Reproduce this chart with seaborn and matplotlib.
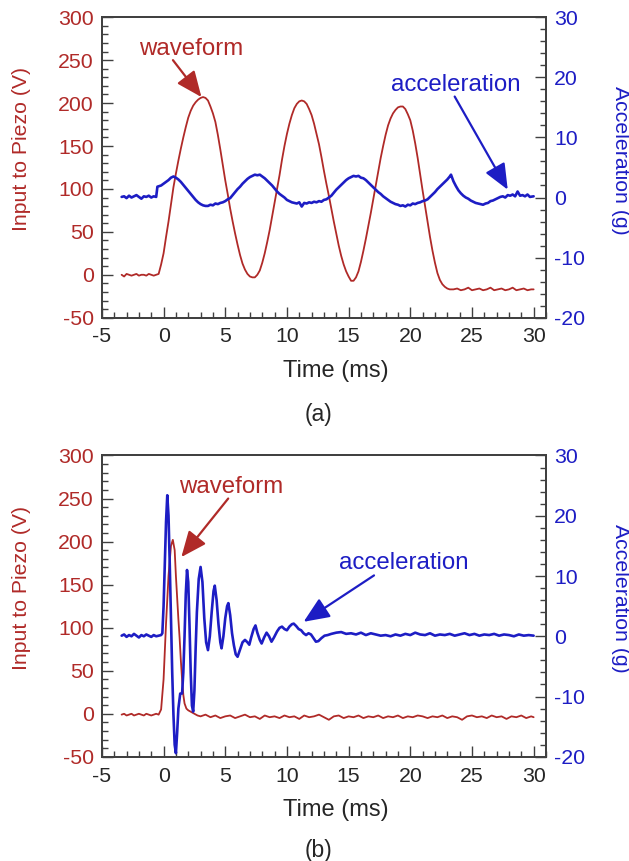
import numpy as np
import pandas as pd
import matplotlib.pyplot as plt
import seaborn as sns
from matplotlib.ticker import MultipleLocator

# ---- panel (a): 3-cycle drive waveform ----
t_wave_a = [-3.4, -3.2, -3.0, -2.8, -2.6, -2.4, -2.2, -2.0, -1.8, -1.6, -1.4, -1.2, -1.0, -0.8, -0.6, -0.4,
            -0.2, 0.0, 0.2, 0.4, 0.6, 0.8, 1.0, 1.2, 1.4, 1.6, 1.8, 2.0, 2.2, 2.4, 2.6, 2.8, 3.0, 3.2, 3.4,
            3.6, 3.8, 4.0, 4.2, 4.4, 4.6, 4.8, 5.0, 5.2, 5.4, 5.6, 5.8, 6.0, 6.2, 6.4, 6.6, 6.8, 7.0, 7.2,
            7.4, 7.6, 7.8, 8.0, 8.2, 8.4, 8.6, 8.8, 9.0, 9.2, 9.4, 9.6, 9.8, 10.0, 10.2, 10.4, 10.6, 10.8,
            11.0, 11.2, 11.4, 11.6, 11.8, 12.0, 12.2, 12.4, 12.6, 12.8, 13.0, 13.2, 13.4, 13.6, 13.8, 14.0,
            14.2, 14.4, 14.6, 14.8, 15.0, 15.2, 15.4, 15.6, 15.8, 16.0, 16.2, 16.4, 16.6, 16.8, 17.0, 17.2,
            17.4, 17.6, 17.8, 18.0, 18.2, 18.4, 18.6, 18.8, 19.0, 19.2, 19.4, 19.6, 19.8, 20.0, 20.2, 20.4,
            20.6, 20.8, 21.0, 21.2, 21.4, 21.6, 21.8, 22.0, 22.2, 22.4, 22.6, 22.8, 23.0, 23.2, 23.5, 23.8,
            24.1, 24.4, 24.7, 25.0, 25.3, 25.6, 25.9, 26.2, 26.5, 26.8, 27.1, 27.4, 27.7, 28.0, 28.3, 28.6,
            28.9, 29.2, 29.5, 29.8, 30.0]
v_wave_a = [0, -2, 1, 0, -1, 0, 1, -1, 0, 0, -1, 1, 0, -1, 0, 1,
            12, 25, 44, 62, 82, 102, 118, 133, 147, 160, 172, 183, 191, 197, 201, 204, 206, 207, 206,
            203, 196, 188, 178, 163, 146, 128, 110, 94, 77, 62, 48, 35, 23, 13, 6, 1, -2, -3,
            -3, 0, 5, 14, 25, 38, 52, 68, 84, 100, 116, 134, 150, 164, 176, 186, 194, 199,
            202, 203, 202, 199, 193, 186, 176, 164, 152, 137, 121, 106, 92, 77, 62, 48,
            34, 22, 12, 4, -2, -7, -7, -3, 4, 15, 28, 42, 57, 72, 88, 104,
            120, 136, 150, 163, 174, 182, 188, 192, 195, 196, 196, 193, 187, 180, 168, 153,
            136, 117, 98, 80, 62, 44, 28, 14, 2, -6, -11, -14, -16, -17, -17, -16,
            -18, -17, -15, -18, -17, -16, -18, -17, -15, -18, -17, -16, -18, -17, -15, -18,
            -17, -16, -18, -17, -17]

t_acc_a = [-3.4, -3.2, -3.0, -2.8, -2.6, -2.4, -2.2, -2.0, -1.8, -1.6, -1.4, -1.2, -1.0, -0.8, -0.6,
           -0.5, -0.2, 0.0, 0.2, 0.4, 0.6, 0.8, 1.0, 1.2, 1.4, 1.6, 1.8, 2.0, 2.2, 2.4, 2.6, 2.8, 3.0,
           3.2, 3.4, 3.6, 3.8, 4.0, 4.2, 4.4, 4.6, 4.8, 5.0, 5.2, 5.4, 5.6, 5.8, 6.0, 6.2, 6.4, 6.6,
           6.8, 7.0, 7.2, 7.4, 7.6, 7.8, 8.0, 8.2, 8.4, 8.6, 8.8, 9.0, 9.2, 9.4, 9.6, 9.8, 10.0, 10.2,
           10.4, 10.6, 10.8, 11.0, 11.2, 11.4, 11.6, 11.8, 12.0, 12.2, 12.4, 12.6, 12.8, 13.0, 13.2,
           13.4, 13.6, 13.8, 14.0, 14.2, 14.4, 14.6, 14.8, 15.0, 15.2, 15.4, 15.6, 15.8, 16.0, 16.2,
           16.4, 16.6, 16.8, 17.0, 17.2, 17.4, 17.6, 17.8, 18.0, 18.2, 18.4, 18.6, 18.8, 19.0, 19.2,
           19.4, 19.6, 19.8, 20.0, 20.2, 20.4, 20.6, 20.8, 21.0, 21.2, 21.4, 21.6, 21.8, 22.0, 22.2,
           22.4, 22.6, 22.8, 23.0, 23.2, 23.3, 23.5, 23.7, 23.9, 24.1, 24.3, 24.5, 24.7, 24.9, 25.1,
           25.3, 25.5, 25.7, 25.9, 26.1, 26.3, 26.5, 26.7, 26.9, 27.1, 27.3, 27.5, 27.7, 27.9, 28.1,
           28.3, 28.5, 28.7, 28.9, 29.1, 29.3, 29.5, 29.7, 30.0]
g_acc_a = [0.1, 0.2, -0.1, 0.3, 0.0, 0.2, 0.4, 0.1, -0.2, 0.2, 0.1, 0.3, 0.0, 0.2, 0.1,
           1.8, 2.0, 2.3, 2.6, 2.9, 3.3, 3.5, 3.3, 3.0, 2.6, 2.1, 1.6, 1.1, 0.6, 0.1, -0.4, -0.8, -1.1,
           -1.3, -1.4, -1.4, -1.2, -1.3, -1.0, -1.1, -0.9, -0.8, -0.6, -0.3, -0.1, 0.4, 0.9, 1.4, 1.8, 2.3, 2.7,
           3.1, 3.4, 3.6, 3.8, 3.7, 3.8, 3.5, 3.2, 2.8, 2.4, 2.0, 1.5, 1.0, 0.6, 0.3, 0.0, -0.4, -0.6,
           -0.8, -0.9, -1.0, -0.8, -1.5, -0.9, -1.0, -0.8, -0.9, -0.7, -0.8, -0.6, -0.7, -0.4, -0.3,
           0.0, 0.3, 0.8, 1.3, 1.7, 2.1, 2.5, 2.9, 3.2, 3.4, 3.6, 3.5, 3.6, 3.3, 3.2,
           2.9, 2.5, 2.1, 1.7, 1.3, 0.9, 0.6, 0.2, -0.1, -0.4, -0.7, -0.9, -1.1, -1.2, -1.4,
           -1.3, -1.5, -1.2, -1.3, -1.0, -1.1, -0.9, -0.8, -0.6, -0.5, -0.3, 0.1, 0.5, 0.9, 1.4,
           1.8, 2.2, 2.6, 3.0, 3.5, 3.8, 2.7, 1.9, 1.2, 0.7, 0.3, 0.0, -0.2, -0.5, -0.7,
           -0.9, -1.0, -1.1, -1.2, -1.0, -0.9, -0.6, -0.5, -0.3, -0.1, 0.1, 0.2, 0.0, 0.4, 0.3,
           0.5, 0.2, 1.0, 0.3, 0.4, 0.2, 0.5, 0.1, 0.2]

# ---- panel (b): single pulse ----
t_wave_b = [-3.4, -3.2, -3.0, -2.8, -2.6, -2.4, -2.2, -2.0, -1.8, -1.6, -1.4, -1.2, -1.0, -0.8, -0.6, -0.4,
            -0.2, 0.0, 0.2, 0.4, 0.6, 0.75, 0.9, 1.0, 1.1, 1.2, 1.3, 1.4, 1.5, 1.6, 1.7, 1.85, 2.0, 2.25,
            2.5, 2.75, 3.0, 3.4, 3.8, 4.2, 4.6, 5.0, 5.4, 5.8, 6.2, 6.6, 7.0, 7.4, 7.8, 8.2, 8.6, 9.0,
            9.4, 9.8, 10.2, 10.6, 11.0, 11.4, 11.8, 12.2, 12.6, 13.0, 13.4, 13.8, 14.2, 14.6, 15.0, 15.4,
            15.8, 16.2, 16.6, 17.0, 17.4, 17.8, 18.2, 18.6, 19.0, 19.4, 19.8, 20.2, 20.6, 21.0, 21.4, 21.8,
            22.2, 22.6, 23.0, 23.4, 23.8, 24.2, 24.6, 25.0, 25.4, 25.8, 26.2, 26.6, 27.0, 27.4, 27.8, 28.2,
            28.6, 29.0, 29.4, 29.8, 30.0]
v_wave_b = [-1, 0, -2, -1, 0, -2, -1, 0, -1, -2, 0, -1, -2, -1, 0, -1,
            5, 40, 105, 160, 195, 202, 190, 160, 135, 110, 88, 62, 40, 22, 12, 6, 4, 2,
            0, -2, -3, -1, -4, -2, -5, -3, -2, -5, -3, -1, -4, -3, -6, -2, -4, -3,
            -5, -2, -4, -3, -6, -2, -4, -3, -1, -4, -7, -3, -2, -5, -3, -4,
            -2, -5, -3, -4, -2, -5, -3, -4, -2, -5, -3, -4, -2, -3, -5, -3,
            -4, -2, -5, -3, -4, -7, -3, -2, -4, -3, -5, -2, -4, -3, -6, -3,
            -4, -2, -5, -3, -4]

t_acc_b = [-3.4, -3.2, -3.0, -2.8, -2.6, -2.4, -2.2, -2.0, -1.8, -1.6, -1.4, -1.2, -1.0, -0.8, -0.6, -0.4,
           -0.2, -0.1, 0.0, 0.1, 0.2, 0.3, 0.4, 0.5, 0.6, 0.7, 0.8, 0.9, 1.0, 1.1, 1.2, 1.35, 1.5, 1.6,
           1.7, 1.8, 1.9, 2.0, 2.1, 2.2, 2.3, 2.4, 2.5, 2.6, 2.7, 2.85, 3.0, 3.15, 3.3, 3.45, 3.6, 3.75,
           3.9, 4.05, 4.15, 4.3, 4.45, 4.6, 4.7, 4.85, 5.0, 5.15, 5.25, 5.4, 5.55, 5.7, 5.85, 6.0, 6.2,
           6.4, 6.6, 6.8, 6.95, 7.1, 7.3, 7.45, 7.6, 7.8, 7.95, 8.15, 8.35, 8.55, 8.75, 8.95, 9.2, 9.4,
           9.6, 9.8, 10.0, 10.2, 10.4, 10.55, 10.75, 10.95, 11.15, 11.35, 11.55, 11.75, 11.95, 12.15,
           12.35, 12.55, 12.8, 13.05, 13.3, 13.6, 14.0, 14.4, 14.8, 15.2, 15.6, 16.0, 16.4, 16.8, 17.2,
           17.6, 18.0, 18.4, 18.8, 19.2, 19.6, 20.0, 20.4, 20.8, 21.2, 21.6, 22.0, 22.4, 22.8, 23.2,
           23.6, 24.0, 24.4, 24.8, 25.2, 25.6, 26.0, 26.4, 26.8, 27.2, 27.6, 28.0, 28.4, 28.8, 29.2,
           29.6, 30.0]
g_acc_b = [0.1, 0.3, -0.1, 0.2, 0.0, 0.4, 0.1, -0.2, 0.2, 0.0, 0.3, 0.1, -0.1, 0.2, 0.0, 0.1,
           0.2, 0.5, 5.0, 12.0, 19.0, 23.4, 20.0, 12.0, 3.0, -6.0, -13.0, -18.0, -19.4, -16.0, -12.0, -9.5, -9.5, -6.0,
           0.0, 7.0, 11.0, 9.0, 2.0, -6.0, -11.5, -12.5, -9.0, -2.0, 4.0, 9.5, 11.5, 9.0, 3.0, -1.0, -2.3, 0.0,
           4.0, 7.5, 8.4, 6.0, 2.0, -1.0, -2.0, 0.0, 3.0, 5.0, 5.5, 3.5, 0.5, -1.5, -3.0, -3.4, -2.2,
           -1.0, -0.6, -1.0, -1.4, -0.2, 1.2, 1.8, 0.6, -0.6, -1.2, -0.2, 0.6, 0.0, -0.9, -0.2, 0.8, 1.4,
           1.6, 1.2, 1.0, 1.6, 2.0, 2.1, 1.7, 1.2, 1.0, 0.5, 0.2, 0.5, 0.3, -0.3,
           -0.9, -0.8, -0.3, 0.1, 0.2, 0.4, 0.6, 0.7, 0.4, 0.5, 0.3, 0.6, 0.2, 0.5, 0.3,
           0.1, 0.2, 0.0, 0.3, 0.1, 0.4, 0.2, 0.6, 0.3, 0.2, 0.5, 0.1, 0.3, 0.2, 0.4,
           0.1, 0.3, 0.5, 0.2, 0.4, 0.1, 0.3, 0.2, 0.4, 0.1, 0.3, 0.2, 0.0, 0.3, 0.1,
           0.2, 0.1]

RED = '#b02a28'
BLUE = '#1d1dc4'
FRAME = '#404040'
TXT = '#262626'

sns.set_theme(style='ticks')
plt.rcParams['font.family'] = ['Liberation Sans', 'DejaVu Sans']
plt.rcParams['axes.unicode_minus'] = False

fig = plt.figure(figsize=(6.29, 8.61), dpi=100)

ARROW = '-|>,head_length=0.75,head_width=0.32'


def panel(rect, tw, vw, ta, ga, wave_txt, wave_tail, wave_head, acc_txt, acc_tail, acc_head):
    ax = fig.add_axes(rect)
    axr = ax.twinx()
    sns.lineplot(x=tw, y=vw, ax=ax, color=RED, lw=1.3, estimator=None, sort=False)
    sns.lineplot(x=ta, y=ga, ax=axr, color=BLUE, lw=1.9, estimator=None, sort=False)

    ax.set_xlim(-5, 31)
    ax.set_ylim(-50, 300)
    axr.set_ylim(-20, 30)
    ax.xaxis.set_major_locator(MultipleLocator(5))
    ax.xaxis.set_minor_locator(MultipleLocator(1))
    ax.yaxis.set_major_locator(MultipleLocator(50))
    ax.yaxis.set_minor_locator(MultipleLocator(10))
    axr.yaxis.set_major_locator(MultipleLocator(10))
    axr.yaxis.set_minor_locator(MultipleLocator(2))

    for a in (ax, axr):
        for s in a.spines.values():
            s.set_color(FRAME)
            s.set_linewidth(1.3)
    ax.tick_params(axis='both', which='major', direction='in', length=8, width=1,
                   color=FRAME, labelsize=15.3, pad=6, top=False, right=False)
    ax.tick_params(axis='both', which='minor', direction='in', length=4.5, width=1,
                   color=FRAME, top=False, right=False)
    ax.tick_params(axis='x', labelcolor=TXT, pad=7)
    ax.tick_params(axis='y', labelcolor=RED)
    axr.tick_params(axis='y', which='major', direction='in', length=8, width=1,
                    color=FRAME, labelsize=15.3, pad=6, labelcolor=BLUE)
    axr.tick_params(axis='y', which='minor', direction='in', length=4.5, width=1, color=FRAME)

    ax.set_xlabel('Time (ms)', fontsize=17, color=TXT)
    ax.xaxis.set_label_coords(0.526, -0.14)
    ax.set_ylabel('Input to Piezo (V)', fontsize=15.3, color=RED)
    ax.yaxis.set_label_coords(-0.160, 0.56)
    axr.set_ylabel('Acceleration (g)', fontsize=15.3, color=BLUE, rotation=270, va='center')
    axr.yaxis.set_label_coords(1.167, 0.525)

    ax.text(wave_txt[0], wave_txt[1], 'waveform', color=RED, fontsize=17.3,
            ha='center', va='baseline')
    ax.annotate('', xy=wave_head, xytext=wave_tail,
                arrowprops=dict(arrowstyle=ARROW, color=RED,
                                lw=1.6, mutation_scale=21, shrinkA=0, shrinkB=0))
    axr.text(acc_txt[0], acc_txt[1], 'acceleration', color=BLUE, fontsize=17.3,
             ha='center', va='baseline')
    axr.annotate('', xy=acc_head, xytext=acc_tail,
                 arrowprops=dict(arrowstyle=ARROW, color=BLUE,
                                 lw=1.6, mutation_scale=21, shrinkA=0, shrinkB=0))
    return ax, axr


panel([0.162, 0.631, 0.706, 0.349], t_wave_a, v_wave_a, t_acc_a, g_acc_a,
      (2.2, 256), (0.76, 250), (3.07, 207),
      (23.7, 17.8), (23.6, 16.8), (27.9, 1.3))
panel([0.162, 0.121, 0.706, 0.350], t_wave_b, v_wave_b, t_acc_b, g_acc_b,
      (5.5, 256), (5.24, 250), (1.44, 182),
      (19.5, 11.1), (17.06, 10.1), (11.35, 2.4))

fig.text(319 / 629, 1 - 414 / 861, '(a)', fontsize=16.5, color=TXT, ha='center', va='center')
fig.text(319 / 629, 1 - 851 / 861, '(b)', fontsize=16.5, color=TXT, ha='center', va='center')

fig.savefig('out.png', dpi=100, facecolor='white')
